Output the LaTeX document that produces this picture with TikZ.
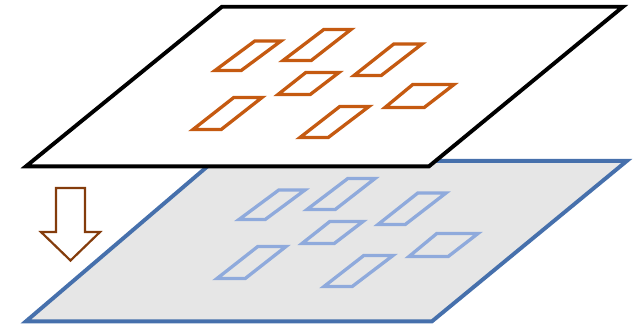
\documentclass[tikz,border=0pt]{standalone}
\begin{document}
\begin{tikzpicture}[x=1pt,y=-1pt,
  plane/.style={line width=3.9pt,line join=miter},
  cell/.style={line width=3.3pt,line join=miter},
  downarrow/.style={draw=arrowbrown,fill=white,line width=2.2pt,line join=miter}]
\definecolor{planeblue}{RGB}{70,112,172}
\definecolor{planegray}{RGB}{230,230,230}
\definecolor{cellorange}{RGB}{197,90,17}
\definecolor{cellblue}{RGB}{143,170,220}
\definecolor{arrowbrown}{RGB}{132,60,12}
\useasboundingbox (0,0) rectangle (633,325);

% one cell: outer corners BL, TL, TR, BR, inset to the stroke centre line
\newcommand\cellat[8]{%
  \path (#1+3,#2-1.5) coordinate (bl) (#3+0.8,#4+1.5) coordinate (tl)
        (#5-3,#6+1.5) coordinate (tr) (#7-0.8,#8-1.5) coordinate (br);
  \draw[cell] (bl) -- (tl) -- (tr) -- (br) -- cycle;}
\newcommand\cellset{%
  \cellat{212}{72}{254}{39.5}{284}{39.5}{242}{72}
  \cellat{280}{62}{323}{28}{354}{28}{312}{62}
  \cellat{351}{77}{393}{42.5}{425}{42.5}{382}{77}
  \cellat{275}{96}{305}{71}{342}{71}{311}{96}
  \cellat{190}{131}{233}{96}{265}{96}{222}{131}
  \cellat{297}{139}{339}{105}{372}{105}{329}{139}
  \cellat{382}{109}{412}{83}{457}{83}{425}{109}}

% lower plane
\coordinate (l1) at (214,160.8);
\coordinate (l2) at (627,160.8);
\coordinate (l3) at (432,321.3);
\coordinate (l4) at (26,321.3);
\draw[plane,draw=planeblue,fill=planegray] (l1) -- (l2) -- (l3) -- (l4) -- cycle;
\begin{scope}[shift={(24,149)},draw=cellblue]
  \cellset
\end{scope}

% upper plane
\coordinate (u1) at (222,6.7);
\coordinate (u2) at (623,6.7);
\coordinate (u3) at (429,166.3);
\coordinate (u4) at (26,166.3);
\draw[plane,draw=black,fill=white] (u1) -- (u2) -- (u3) -- (u4) -- cycle;
\begin{scope}[draw=cellorange]
  \cellset
\end{scope}

% hollow arrow pointing down
\coordinate (a1) at (56,188);
\coordinate (a2) at (85,188);
\coordinate (a3) at (85,232);
\coordinate (a4) at (100,232);
\coordinate (a5) at (70.5,260.5);
\coordinate (a6) at (41,232);
\coordinate (a7) at (56,232);
\draw[downarrow] (a1) -- (a2) -- (a3) -- (a4) -- (a5) -- (a6) -- (a7) -- cycle;
\end{tikzpicture}
\end{document}
